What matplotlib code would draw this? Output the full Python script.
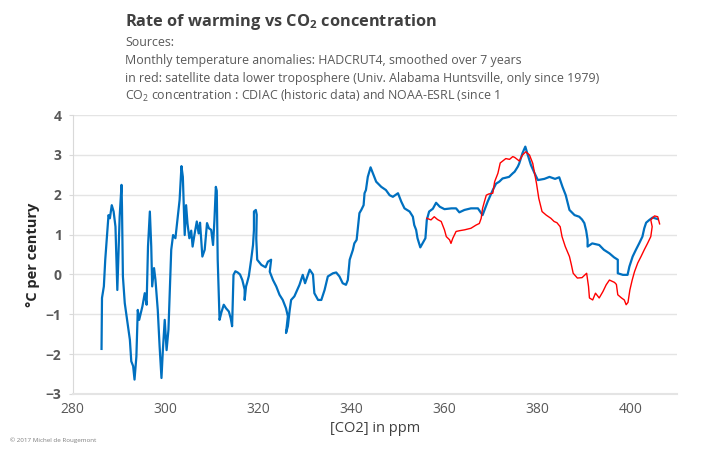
import matplotlib.pyplot as plt
from matplotlib import rc

# HADCRUT4 rate of warming (blue) vs CO2 ppm
co2_blue = [286.2, 286.3, 286.7, 287.0, 287.4, 287.7, 288.0, 288.4, 288.8, 289.2,
            289.6, 290.1, 290.5, 290.6, 290.8, 291.2, 291.7, 292.3, 292.6, 293.0,
            293.3, 293.7, 294.0, 294.3, 295.0, 295.5, 295.9, 296.2, 296.6, 296.9,
            297.1, 297.5, 297.8, 298.3, 298.7, 299.1, 299.4, 299.8, 300.2, 300.6,
            300.9, 301.2, 301.6, 302.1, 302.7, 303.0, 303.4, 303.7, 304.1, 304.4,
            304.7, 305.1, 305.5, 305.8, 306.2, 306.7, 307.1, 307.4, 307.9, 308.4,
            308.9, 309.3, 309.8, 310.2, 310.5, 310.8, 311.0, 311.2, 311.6, 312.0,
            312.5, 313.0, 313.6, 314.0, 314.3, 314.6, 315.0, 315.5, 316.0, 316.5,
            317.0, 317.0, 317.3, 317.5, 317.9, 318.4, 318.8, 319.0, 319.0, 319.4,
            319.6, 319.5, 319.7, 320.6, 321.5, 322.0, 322.7, 322.4, 323.1, 323.8,
            324.5, 325.2, 325.9, 326.3, 325.9, 326.3, 326.7, 327.0, 327.7, 328.8,
            329.5, 330.0, 331.0, 331.7, 332.0, 332.8, 333.5, 334.2, 334.9, 336.0,
            336.7, 337.4, 338.1, 338.8, 339.2, 339.6, 340.3, 340.6, 341.1, 341.4,
            341.7, 342.1, 342.6, 342.8, 343.1, 343.5, 344.1, 345.3, 346.4, 347.4,
            348.2, 348.9, 350.0, 350.7, 351.4, 352.5, 353.2, 353.5, 353.9, 354.2,
            354.8, 355.9, 356.2, 356.7, 357.5, 358.2, 359.0, 360.0, 361.5, 362.5,
            363.2, 364.3, 365.7, 367.2, 368.2, 369.3, 370.4, 371.1, 371.8, 372.5,
            373.9, 374.7, 375.1, 375.8, 376.1, 376.8, 377.4, 377.8, 378.6, 379.4,
            380.1, 381.5, 382.6, 383.8, 384.7, 385.4, 386.1, 386.9, 388.0, 389.0,
            389.6, 390.1, 390.5, 390.8, 390.8, 391.8, 393.3, 394.3, 395.5, 396.5,
            397.3, 397.3, 398.4, 399.4, 399.8, 400.5, 401.2, 401.9, 402.6, 403.0,
            403.4, 404.1, 404.8, 405.9]
rate_blue = [-1.87, -0.59, -0.30, 0.37, 1.03, 1.49, 1.41, 1.74, 1.58, 1.20,
             -0.39, 1.45, 2.25, 1.70, -0.05, -0.72, -1.13, -1.64, -2.18, -2.30,
             -2.64, -2.06, -0.89, -1.14, -0.80, -0.47, -0.76, 0.70, 1.58, 0.70,
             -0.30, 0.16, -0.13, -0.89, -1.81, -2.60, -1.90, -1.14, -1.90, -1.39,
             -0.39, 0.62, 0.99, 0.91, 1.54, 1.87, 2.72, 2.45, 0.99, 1.74,
             1.28, 0.91, 1.10, 0.70, 1.00, 1.33, 1.03, 1.30, 0.45, 0.62,
             1.29, 1.16, 1.12, 0.74, 1.37, 2.20, 2.10, 0.37, -1.14, -0.95,
             -0.76, -0.85, -0.93, -1.10, -1.30, -0.01, 0.08, 0.05, 0.00, -0.14,
             -0.38, -0.64, -0.30, -0.22, -0.04, 0.37, 0.74, 1.12, 1.58, 1.62,
             1.50, 0.90, 0.37, 0.24, 0.18, 0.32, 0.37, 0.07, -0.14, -0.30,
             -0.51, -0.64, -0.85, -1.05, -1.47, -1.30, -0.89, -0.64, -0.55, -0.26,
             -0.01, -0.22, 0.12, 0.00, -0.47, -0.64, -0.64, -0.39, -0.05, 0.03,
             0.05, -0.05, -0.22, -0.26, -0.14, 0.37, 0.62, 0.78, 0.87, 1.20,
             1.54, 1.62, 1.74, 2.04, 2.12, 2.45, 2.69, 2.33, 2.20, 2.12,
             1.99, 1.95, 2.04, 1.83, 1.66, 1.58, 1.45, 1.24, 1.12, 0.91,
             0.68, 0.91, 1.37, 1.58, 1.65, 1.80, 1.70, 1.64, 1.66, 1.66,
             1.56, 1.62, 1.66, 1.66, 1.49, 1.83, 2.12, 2.28, 2.33, 2.41,
             2.45, 2.54, 2.58, 2.71, 2.79, 3.05, 3.21, 3.05, 2.75, 2.54,
             2.37, 2.40, 2.45, 2.40, 2.44, 2.20, 1.99, 1.62, 1.49, 1.45,
             1.38, 1.29, 1.10, 0.87, 0.70, 0.78, 0.74, 0.62, 0.53, 0.43,
             0.37, 0.03, -0.01, -0.01, 0.20, 0.45, 0.62, 0.78, 0.95, 1.16,
             1.30, 1.37, 1.43, 1.39]

# UAH satellite lower troposphere (red), since 1979
co2_red = [356.2, 357.1, 357.8, 358.5, 359.3, 360.0, 360.4, 361.1, 361.4, 361.8,
           362.5, 363.3, 364.3, 365.7, 366.8, 367.5, 367.9, 368.2, 368.6, 369.0,
           369.5, 370.4, 370.8, 371.5, 372.0, 373.2, 374.0, 374.7, 375.1, 376.1,
           376.8, 377.5, 378.3, 379.0, 379.4, 379.8, 380.3, 381.0, 381.9, 382.9,
           383.6, 384.2, 384.9, 385.3, 386.0, 386.9, 387.3, 387.7, 388.6, 389.6,
           390.6, 391.0, 391.2, 391.9, 392.5, 393.3, 394.1, 394.8, 395.5, 396.6,
           397.0, 397.3, 398.1, 398.7, 399.1, 399.5, 399.9, 400.4, 400.9, 401.6,
           402.3, 403.0, 403.7, 404.4, 404.7, 404.4, 405.2, 405.9, 406.3]
rate_red = [1.41, 1.37, 1.45, 1.38, 1.33, 1.12, 0.95, 0.87, 0.78, 0.91,
            1.08, 1.10, 1.12, 1.16, 1.24, 1.28, 1.41, 1.66, 1.83, 1.99,
            2.02, 2.04, 2.33, 2.54, 2.80, 2.91, 2.89, 2.96, 2.94, 2.85,
            3.00, 3.08, 3.00, 2.79, 2.54, 2.29, 1.91, 1.58, 1.49, 1.41,
            1.33, 1.30, 1.20, 0.95, 0.70, 0.45, 0.25, 0.03, -0.09, -0.08,
            0.03, -0.30, -0.59, -0.64, -0.47, -0.59, -0.43, -0.26, -0.14, -0.20,
            -0.25, -0.51, -0.59, -0.64, -0.76, -0.70, -0.39, -0.14, 0.07, 0.29,
            0.45, 0.62, 0.78, 0.95, 1.20, 1.37, 1.47, 1.45, 1.27]

x_ticks = [280, 300, 320, 340, 360, 380, 400]
y_ticks = [-3, -2, -1, 0, 1, 2, 3, 4]

rc('font', family=['Open Sans', 'DejaVu Sans'])
plt.rcParams['mathtext.fontset'] = 'custom'
plt.rcParams['mathtext.rm'] = 'Open Sans'
plt.rcParams['mathtext.bf'] = 'Open Sans:bold'

grey = '#595959'
fig = plt.figure(figsize=(7.2, 4.57), dpi=100)
ax = fig.add_axes([0.101, 0.138, 0.839, 0.61])

ax.plot(co2_blue, rate_blue, color='#0070C0', lw=1.6, zorder=3)
ax.plot(co2_red, rate_red, color='#FF0000', lw=1.0, zorder=4)

ax.set_xlim(280, 410)
ax.set_ylim(-3, 4)
ax.set_xticks(x_ticks)
ax.set_yticks(y_ticks)
ax.grid(axis='y', color='#e4e4e4', lw=1)
ax.set_axisbelow(True)
for s in ['top', 'right']:
    ax.spines[s].set_visible(False)
ax.spines['left'].set_color('#d9d9d9')
ax.spines['bottom'].set_color('#e4e4e4')
ax.spines['bottom'].set_linewidth(1.5)
ax.tick_params(axis='x', length=0, pad=6, labelsize=10, labelcolor=grey)
ax.tick_params(axis='y', length=3, color='#d9d9d9', pad=5, labelsize=10, labelcolor=grey)
for t in ax.get_yticklabels():
    t.set_fontweight('bold')

ax.set_xlabel('[CO2] in ppm', fontsize=10.5, color='#404040', labelpad=3)
ax.set_ylabel('°C per century', fontsize=10.5, color='#262626', fontweight='bold', labelpad=4)

fig.text(0.174, 0.952, r'Rate of warming vs CO$_\mathbf{2}$ concentration', fontsize=11.8,
         fontweight='bold', color='#404040', va='center')
sub = ['Sources:',
       'Monthly temperature anomalies: HADCRUT4, smoothed over 7 years',
       'in red: satellite data lower troposphere (Univ. Alabama Huntsville, only since 1979)',
       r'CO$_2$ concentration : CDIAC (historic data) and NOAA-ESRL (since 1']
for i, s in enumerate(sub):
    fig.text(0.174, 0.906 - i * 0.0385, s, fontsize=8.9, color=grey, va='center')

fig.text(0.014, 0.037, '© 2017 Michel de Rougemont', fontsize=4.5, color='#7f7f7f', va='center')

plt.savefig('out.png', dpi=100)
